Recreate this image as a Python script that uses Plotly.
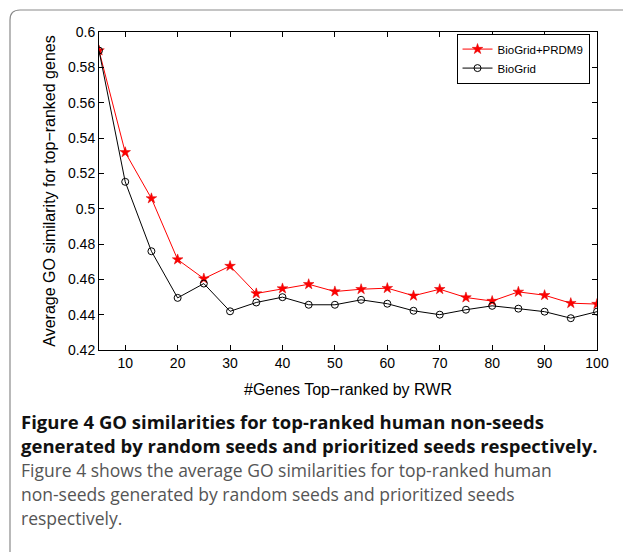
import plotly.graph_objects as go

# data
n_genes = [5, 10, 15, 20, 25, 30, 35, 40, 45, 50, 55, 60, 65, 70, 75, 80, 85, 90, 95, 100]
biogrid_prdm9 = [0.5895, 0.5319, 0.5058, 0.4712, 0.4604, 0.4675, 0.4520, 0.4548, 0.4572, 0.4531,
                 0.4544, 0.4550, 0.4507, 0.4544, 0.4497, 0.4477, 0.4529, 0.4510, 0.4465, 0.4460]
biogrid = [0.5895, 0.5152, 0.4759, 0.4495, 0.4576, 0.4419, 0.4469, 0.4499, 0.4456, 0.4456,
           0.4484, 0.4462, 0.4422, 0.4400, 0.4428, 0.4450, 0.4434, 0.4417, 0.4380, 0.4417]

x_ticks = [10, 20, 30, 40, 50, 60, 70, 80, 90, 100]
y_ticks = [0.42, 0.44, 0.46, 0.48, 0.5, 0.52, 0.54, 0.56, 0.58, 0.6]
y_ticklabels = ["0.42", "0.44", "0.46", "0.48", "0.5", "0.52", "0.54", "0.56", "0.58", "0.6"]

caption_bold = ["Figure 4 GO similarities for top-ranked human non-seeds",
                "generated by random seeds and prioritized seeds respectively."]
caption_body = ["Figure 4 shows the average GO similarities for top-ranked human",
                "non-seeds generated by random seeds and prioritized seeds",
                "respectively."]

OFF = 8                      # page body margin in the browser
W, H = 631 - OFF, 552 - OFF
L, R, T, B = 99 - OFF, 597 - OFF, 32 - OFF, 350 - OFF   # plot area in pixels


def px(x):
    return (x - OFF - L) / (R - L)


def py(y):
    return (B - (y - OFF)) / (B - T)


fig = go.Figure()
fig.add_trace(go.Scatter(
    x=n_genes, y=biogrid_prdm9, name="BioGrid+PRDM9",
    mode="lines+markers",
    line=dict(color="#ff0000", width=1),
    marker=dict(symbol="star", size=8, color="#ff0000", line=dict(color="#dd0000", width=0.5)),
))
fig.add_trace(go.Scatter(
    x=n_genes, y=biogrid, name="BioGrid",
    mode="lines+markers",
    line=dict(color="#000000", width=1),
    marker=dict(symbol="circle-open", size=7, color="#000000", line=dict(width=1)),
))

tick_font = dict(family="Liberation Sans, Arial", size=14, color="#000")
title_font = dict(family="Liberation Sans, Arial", size=16, color="#000")
fig.update_xaxes(
    range=[5, 100], tickvals=x_ticks, ticks="inside", ticklen=5, tickcolor="#000",
    showline=True, linecolor="#000", linewidth=1, mirror="ticks", showgrid=False, zeroline=False,
    tickfont=tick_font,
    title=dict(text="#Genes Top\u2212ranked by RWR", font=title_font, standoff=14),
)
fig.update_yaxes(
    range=[0.42, 0.6], tickvals=y_ticks, ticktext=y_ticklabels, ticks="inside", ticklen=5,
    tickcolor="#000", showline=True, linecolor="#000", linewidth=1, mirror="ticks",
    showgrid=False, zeroline=False, tickfont=tick_font,
    title=dict(text="Average GO similarity for top\u2212ranked genes", font=title_font, standoff=8),
)

# rounded frame around the figure (open at right / bottom, as cropped)
fig.add_shape(type="path", xref="paper", yref="paper",
              path=f"M {px(10)},{py(600)} L {px(10)},{py(20)} Q {px(10)},{py(10)} {px(20)},{py(10)} L {px(650)},{py(10)}",
              line=dict(color="#8a8a8a", width=1.2))

for i, line in enumerate(caption_bold):
    fig.add_annotation(text=f"<b>{line}</b>", xref="paper", yref="paper",
                       x=px(19), y=py(421 + 24 * i), xanchor="left", yanchor="middle",
                       showarrow=False,
                       font=dict(family="Open Sans", size=18.5, color="#111"))
for i, line in enumerate(caption_body):
    fig.add_annotation(text=line, xref="paper", yref="paper",
                       x=px(19), y=py(470 + 24 * i), xanchor="left", yanchor="middle",
                       showarrow=False,
                       font=dict(family="Open Sans", size=17.5, color="#555"))

fig.update_layout(
    width=W, height=H,
    margin=dict(l=L, r=W - R, t=T, b=H - B),
    plot_bgcolor="white", paper_bgcolor="white",
    legend=dict(x=0.985, y=0.995, xanchor="right", yanchor="top",
                bgcolor="white", bordercolor="#000", borderwidth=1,
                font=dict(family="Liberation Sans, Arial", size=11.5, color="#000"),
                tracegroupgap=0, itemwidth=30),
)

fig.write_html("out.html")
